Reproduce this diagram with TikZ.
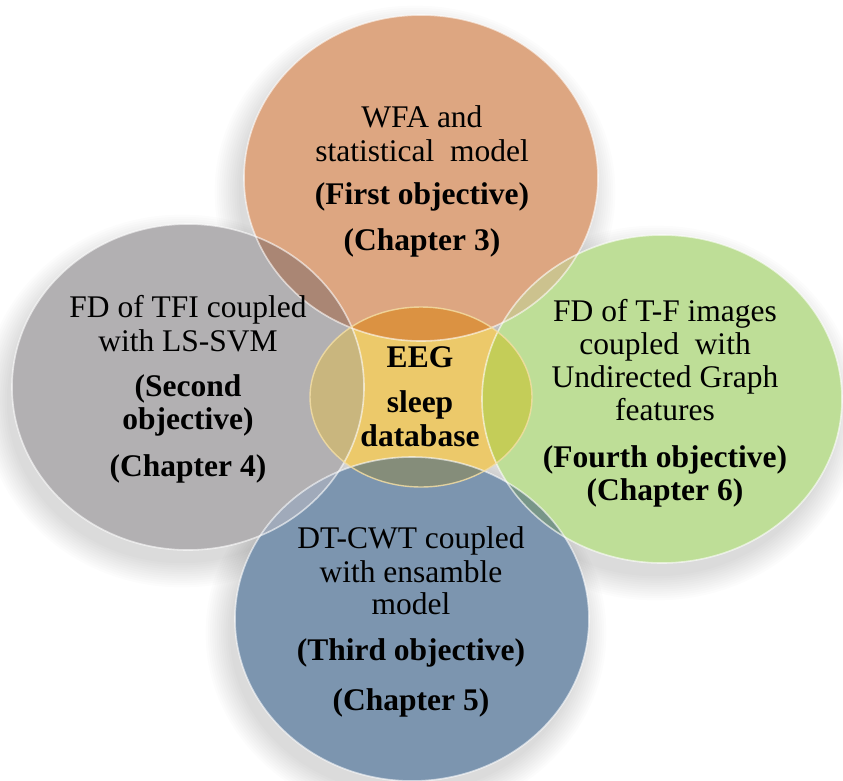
\documentclass[tikz,border=0pt]{standalone}
\usepackage{fontspec}
\setmainfont{Liberation Serif}
\begin{document}
\begin{tikzpicture}[x=1pt,y=-1pt]
\definecolor{cOr}{RGB}{221,166,129}
\definecolor{cGr}{RGB}{178,176,178}
\definecolor{cGn}{RGB}{190,222,151}
\definecolor{cBl}{RGB}{124,149,175}
\definecolor{cYe}{RGB}{236,201,106}
\definecolor{cOrGr}{RGB}{170,134,116}
\definecolor{cOrGn}{RGB}{204,194,142}
\definecolor{cGnBl}{RGB}{120,150,136}
\definecolor{cGrBl}{RGB}{160,170,186}
\definecolor{cYeOr}{RGB}{219,146,66}
\definecolor{cYeGr}{RGB}{201,182,126}
\definecolor{cYeGn}{RGB}{196,205,88}
\definecolor{cYeBl}{RGB}{133,141,122}
\useasboundingbox (0,0) rectangle (843,780);
\fill[white] (0,0) rectangle (843,780);
\coordinate (cT) at (421,178);
\coordinate (cL) at (188,387);
\coordinate (cR) at (662,399);
\coordinate (cB) at (412,619);
\coordinate (cC) at (421,397);
\tikzset{
  pT/.style={insert path={(cT) ellipse [x radius=177pt, y radius=163pt]}},
  pL/.style={insert path={(cL) ellipse [x radius=176pt, y radius=163pt]}},
  pR/.style={insert path={(cR) ellipse [x radius=180pt, y radius=164pt]}},
  pB/.style={insert path={(cB) ellipse [x radius=177pt, y radius=162pt]}},
  pC/.style={insert path={(cC) ellipse [x radius=111pt, y radius=90pt]}},
  rim/.style={draw=white, draw opacity=0.6, line width=1.6pt},
  lbl/.style={anchor=base, inner sep=0pt, font=\fontsize{31.5}{34}\selectfont},
  blbl/.style={lbl, font=\fontsize{31.5}{34}\selectfont\bfseries}
}
% soft shadows
\foreach \k in {1,...,12}{
  \fill[black, fill opacity=0.011] ([xshift=-6pt,yshift=-14pt]cT) ellipse [x radius={(174+2.2*\k)*1pt}, y radius={(160+2.2*\k)*1pt}];
  \fill[black, fill opacity=0.011] ([xshift=-6pt,yshift=-14pt]cL) ellipse [x radius={(173+2.2*\k)*1pt}, y radius={(160+2.2*\k)*1pt}];
  \fill[black, fill opacity=0.011] ([xshift=-6pt,yshift=-14pt]cR) ellipse [x radius={(177+2.2*\k)*1pt}, y radius={(161+2.2*\k)*1pt}];
  \fill[black, fill opacity=0.011] ([xshift=-6pt,yshift=-14pt]cB) ellipse [x radius={(174+2.2*\k)*1pt}, y radius={(159+2.2*\k)*1pt}];
}
% circles
\fill[cGr, pL];
\fill[cBl, pB];
\fill[cGn, pR];
\fill[cOr, pT];
% pairwise overlaps
\begin{scope}\clip[pT]; \fill[cOrGr, pL];\end{scope}
\begin{scope}\clip[pT]; \fill[cOrGn, pR];\end{scope}
\begin{scope}\clip[pR]; \fill[cGnBl, pB];\end{scope}
\begin{scope}\clip[pL]; \fill[cGrBl, pB];\end{scope}
% centre
\fill[cYe, pC];
\begin{scope}\clip[pC]; \fill[cYeOr, pT];\end{scope}
\begin{scope}\clip[pC]; \fill[cYeGr, pL];\end{scope}
\begin{scope}\clip[pC]; \fill[cYeGn, pR];\end{scope}
\begin{scope}\clip[pC]; \fill[cYeBl, pB];\end{scope}
% rims
\path[rim, pL];
\path[rim, pB];
\path[rim, pR];
\path[rim, pT];
\path[draw=cYe!60!white, draw opacity=0.8, line width=1.4pt, pC];
% texts
\node[lbl]  (t1) at (422,127) {WFA and};
\node[lbl]  (t2) at (422,161) {statistical\ \ model};
\node[blbl] (t3) at (422,204) {(First objective)};
\node[blbl] (t4) at (422,250) {(Chapter 3)};
\node[lbl]  (l1) at (188,317) {FD of TFI coupled};
\node[lbl]  (l2) at (188,351) {with LS-SVM};
\node[blbl] (l3) at (188,396) {(Second};
\node[blbl] (l4) at (188,429) {objective)};
\node[blbl] (l5) at (188,476) {(Chapter 4)};
\node[lbl]  (r1) at (665,321) {FD of T-F images};
\node[lbl]  (r2) at (665,354) {coupled\ \ with};
\node[lbl]  (r3) at (665,387) {Undirected Graph};
\node[lbl]  (r4) at (665,420) {features};
\node[blbl] (r5) at (665,467) {(Fourth objective)};
\node[blbl] (r6) at (665,500) {(Chapter 6)};
\node[lbl]  (b1) at (411,548) {DT-CWT coupled};
\node[lbl]  (b2) at (411,582) {with ensamble};
\node[lbl]  (b3) at (411,614) {model};
\node[blbl] (b4) at (411,660) {(Third objective)};
\node[blbl] (b5) at (411,710) {(Chapter 5)};
\node[blbl] (c1) at (420,367) {EEG};
\node[blbl] (c2) at (420,412) {sleep};
\node[blbl] (c3) at (420,446) {database};
\end{tikzpicture}
\end{document}
